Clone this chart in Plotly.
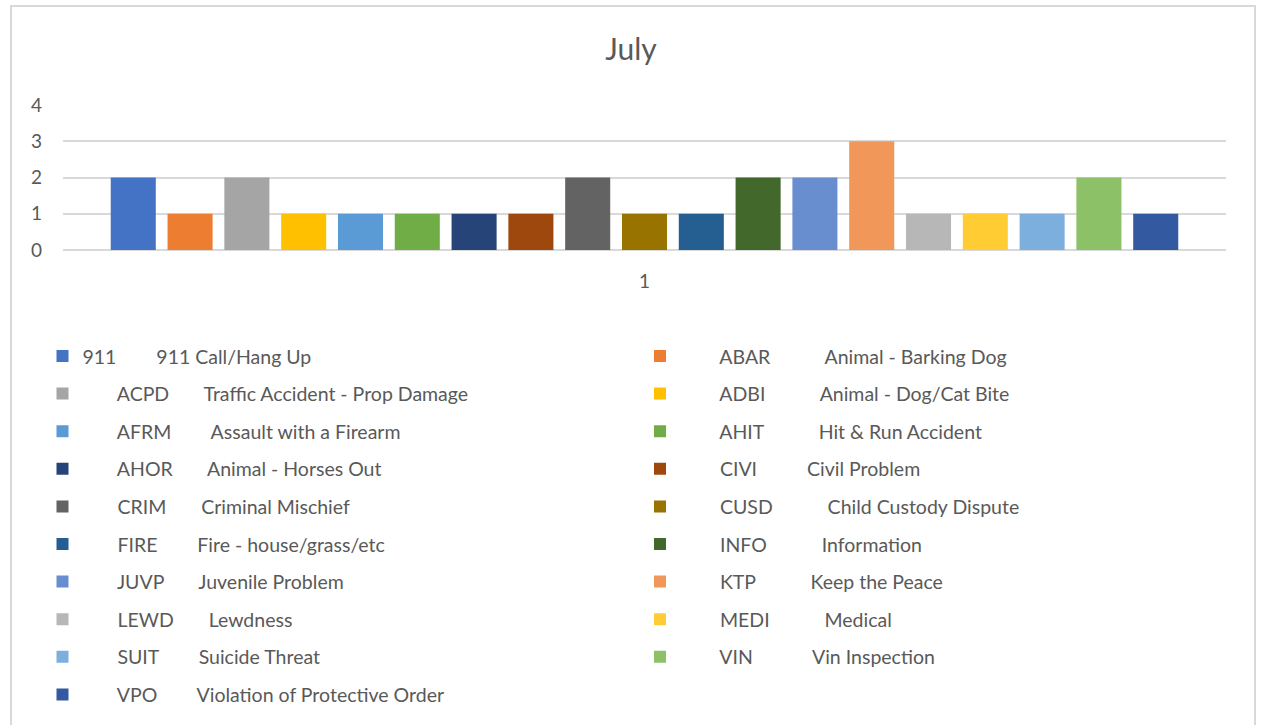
import plotly.graph_objects as go

# ---------------- data ----------------
title_text = "July"
category = ["1"]
codes = ["911", "ABAR", "ACPD", "ADBI", "AFRM", "AHIT", "AHOR", "CIVI", "CRIM", "CUSD",
         "FIRE", "INFO", "JUVP", "KTP", "LEWD", "MEDI", "SUIT", "VIN", "VPO"]
descriptions = ["911 Call/Hang Up", "Animal - Barking Dog", "Traffic Accident - Prop Damage",
                "Animal - Dog/Cat Bite", "Assault with a Firearm", "Hit & Run Accident",
                "Animal - Horses Out", "Civil Problem", "Criminal Mischief",
                "Child Custody Dispute", "Fire - house/grass/etc", "Information",
                "Juvenile Problem", "Keep the Peace", "Lewdness", "Medical",
                "Suicide Threat", "Vin Inspection", "Violation of Protective Order"]
counts = [2, 1, 2, 1, 1, 1, 1, 1, 2, 1, 1, 2, 2, 3, 1, 1, 1, 2, 1]
y_ticks = [0, 1, 2, 3, 4]

# ---------------- style ----------------
colors = ["#4472C4", "#ED7D31", "#A5A5A5", "#FFC000", "#5B9BD5", "#70AD47", "#264478",
          "#9E480E", "#636363", "#997300", "#255E91", "#43682B", "#698ED0", "#F1975A",
          "#B7B7B7", "#FFCD33", "#7CAFDD", "#8CC168", "#335AA1"]
FONT = "Lato"
TXT = "#595959"
LEG_SIZE = 19.5
ROW_PITCH = 37.6
W, H = 1262, 725
ML, MR, MT, MB = 63, 36, 105, 10
PW, PH = W - ML - MR, H - MT - MB
AX_BOTTOM_PX = 250

def px_x(px):
    return (px - ML) / PW

def px_y(py):
    return (H - MB - py) / PH

# approximate Lato advance widths (em)
SP_EM = 0.253
_wid = {" ": SP_EM, "\u00a0": SP_EM}
for c, v in zip("ABCDEFGHIJKLMNOPQRSTUVWXYZ",
                [0.68, 0.65, 0.68, 0.75, 0.57, 0.55, 0.73, 0.76, 0.29, 0.39, 0.67, 0.50, 0.93,
                 0.76, 0.80, 0.61, 0.80, 0.64, 0.53, 0.59, 0.73, 0.68, 1.01, 0.66, 0.63, 0.62]):
    _wid[c] = v
for c in "0123456789":
    _wid[c] = 0.58

def tw(s):
    return sum(_wid.get(c, 0.55) for c in s) * LEG_SIZE

SP = SP_EM * LEG_SIZE
# column text origins (px) and where code / description start (px)
col_text_x = [82.5, 680.0]
code_x = [[84] + [115] * 9, [721] * 9]
desc_x = [[157, 206, 211, 208, 203, 195, 201, 209, 197, 199],
          [825, 820, 817, 808, 825, 819, 811, 825, 811]]

def label(i):
    col = i % 2
    row = i // 2
    cx = code_x[col][row]
    dx = desc_x[col][row]
    lead = max(0, round((cx - col_text_x[col]) / SP))
    start = col_text_x[col] + lead * SP
    gap = max(1, round((dx - start - tw(codes[i])) / SP))
    return "\u00a0" * lead + codes[i] + "\u00a0" * gap + descriptions[i]

fig = go.Figure()
for i in range(len(codes)):
    fig.add_trace(go.Bar(
        x=category, y=[counts[i]], name=label(i),
        marker=dict(color=colors[i], line=dict(width=0)),
        legend="legend" if i % 2 == 0 else "legend2",
        legendgroup=codes[i],
        hovertemplate=codes[i] + " " + descriptions[i] + ": %{y}<extra></extra>",
    ))

item_h = LEG_SIZE * 1.3 + 3
leg_top = 356 - 5 - item_h / 2
leg_common = dict(
    orientation="v", xanchor="left", yanchor="top",
    font=dict(family=FONT, size=LEG_SIZE, color=TXT),
    bgcolor="rgba(0,0,0,0)", borderwidth=0, tracegroupgap=ROW_PITCH - item_h,
    itemwidth=30, traceorder="grouped",
)

fig.update_layout(
    width=W, height=H,
    margin=dict(l=ML, r=MR, t=MT, b=MB, autoexpand=False),
    paper_bgcolor="white", plot_bgcolor="white",
    barmode="group", bargap=0.072, bargroupgap=0.207,
    title=dict(text=title_text, x=0.5, xref="container", xanchor="center",
               y=1 - 49 / H, yref="container", yanchor="middle",
               font=dict(family=FONT, size=30, color=TXT)),
    xaxis=dict(type="category", showgrid=False, zeroline=False, showline=False,
               ticks="", ticklabelstandoff=18,
               tickfont=dict(family=FONT, size=19, color=TXT), fixedrange=True),
    yaxis=dict(domain=[px_y(AX_BOTTOM_PX), 1], range=[0, 4], tickvals=y_ticks,
               showgrid=True, gridcolor="#D9D9D9", gridwidth=1.6,
               zeroline=True, zerolinecolor="#D9D9D9", zerolinewidth=1.6,
               showline=False, ticks="", ticklabelstandoff=20,
               tickfont=dict(family=FONT, size=19, color=TXT), fixedrange=True),
    legend=dict(x=px_x(42.5), y=px_y(leg_top), **leg_common),
    legend2=dict(x=px_x(640), y=px_y(leg_top), **leg_common),
    shapes=[dict(type="rect", xref="paper", yref="paper",
                 x0=px_x(11), x1=px_x(1255), y0=px_y(740), y1=px_y(6),
                 line=dict(color="#D9D9D9", width=2), fillcolor="rgba(0,0,0,0)",
                 layer="below")],
    showlegend=True,
)

fig.write_html(
    "out.html",
    config={"displayModeBar": False},
    post_script="document.body.style.margin='0';document.body.style.overflow='hidden';",
)
